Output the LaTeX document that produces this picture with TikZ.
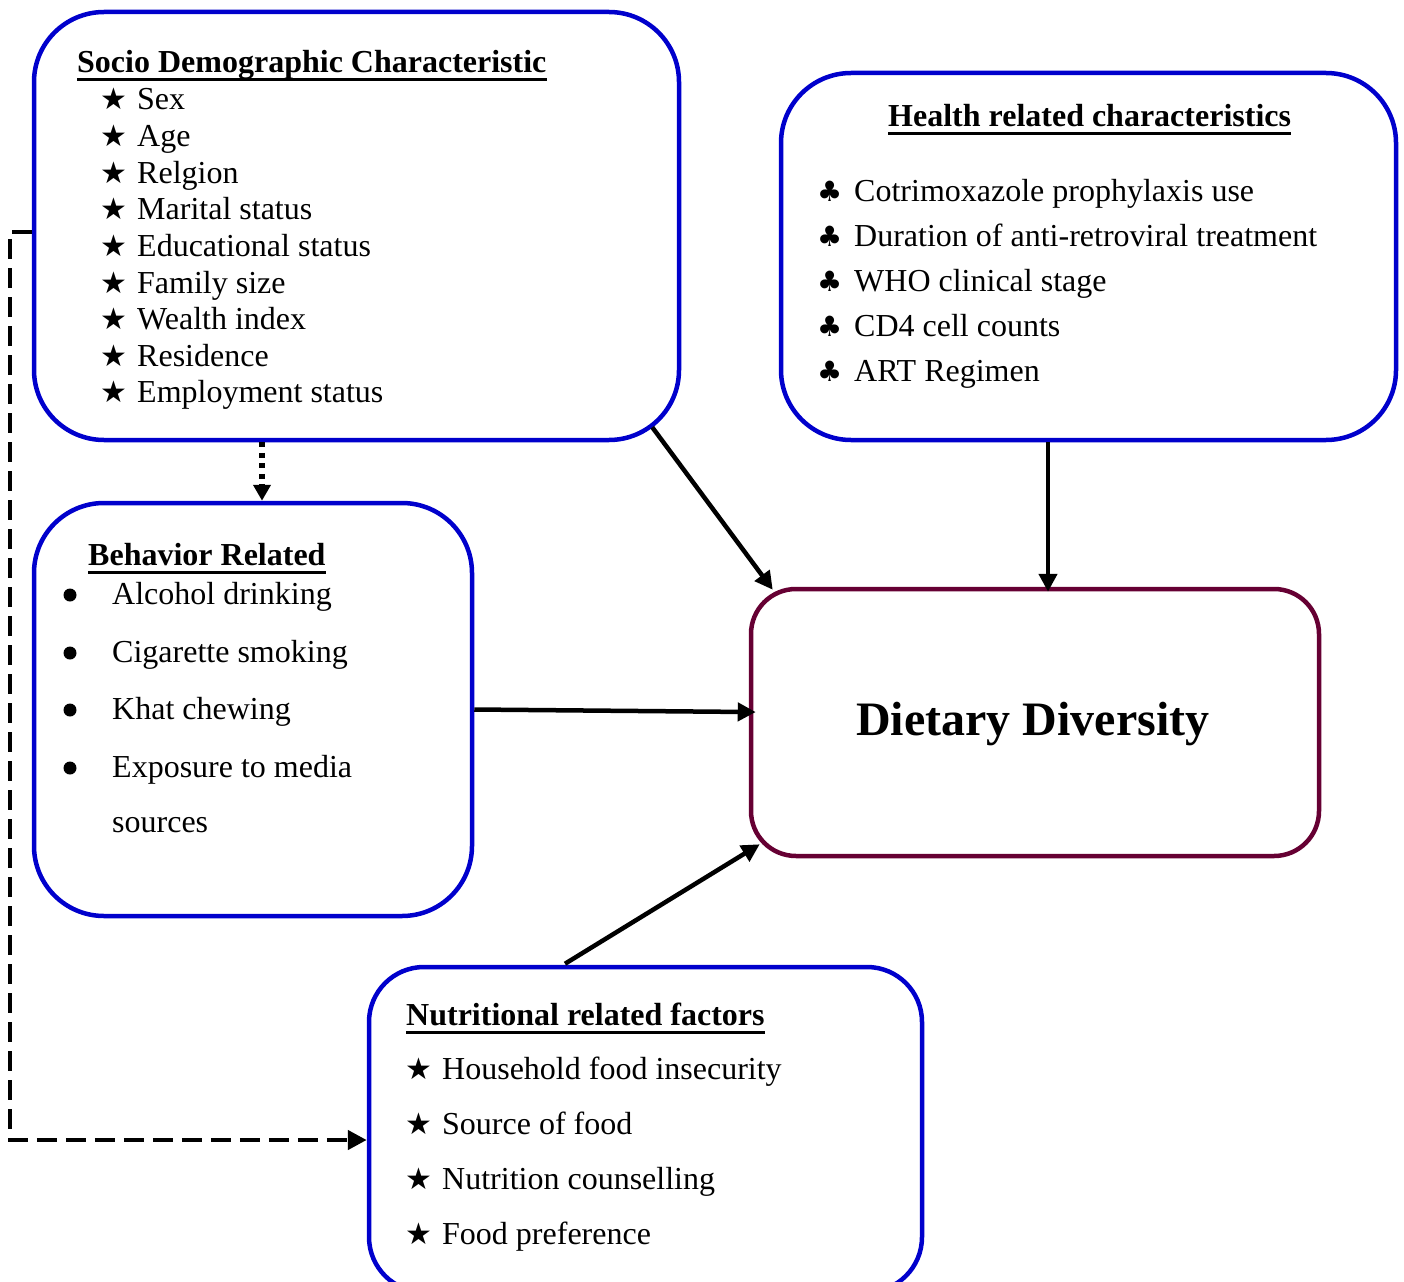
\documentclass[tikz,border=0pt]{standalone}
\usepackage{fontspec}
\setmainfont{Liberation Serif}
\newfontfamily\symf{DejaVu Sans}
\usetikzlibrary{arrows.meta}
\definecolor{boxblue}{RGB}{0,0,204}
\definecolor{boxmaroon}{RGB}{102,0,51}
\newcommand\stitem{\llap{{\symf\fontsize{30}{30}\selectfont ★}\hspace{10pt}}}
\newcommand\clitem{\llap{{\symf\fontsize{28}{28}\selectfont ♣}\hspace{12pt}}}
\begin{document}
\begin{tikzpicture}[x=1pt,y=-1pt,
  bluebox/.style={draw=boxblue, line width=4.5pt, rectangle, rounded corners=70pt, inner sep=0pt},
  item/.style={anchor=base west, inner sep=0pt, font=\fontsize{32}{38}\selectfont},
  ttl/.style={anchor=base west, inner sep=0pt, font=\fontsize{32}{38}\selectfont\bfseries},
  ul/.style={line width=3pt},
  arr/.style={line width=4.5pt, -{Triangle[length=18pt,width=18pt]}},
  dotarr/.style={line width=5.5pt, dash pattern=on 5pt off 5.5pt, -{Triangle[length=16pt,width=17pt]}},
  dasharr/.style={line width=4.5pt, dash pattern=on 20pt off 9pt, -{Triangle[length=19pt,width=19pt]}},
]
\useasboundingbox (0,0) rectangle (1404,1281);

% boxes
\node[bluebox, minimum width=645pt, minimum height=428pt] (socio) at (356.5,226) {};
\node[bluebox, minimum width=615pt, minimum height=367pt] (health) at (1088.5,256.5) {};
\node[bluebox, minimum width=438pt, minimum height=413pt] (behav) at (253,709.5) {};
\node[draw=boxmaroon, line width=4.5pt, rectangle, rounded corners=45pt, inner sep=0pt,
      minimum width=568pt, minimum height=267pt] (diet) at (1035,722.5) {};
\node[bluebox, rounded corners=55pt, minimum width=553pt, minimum height=325pt] (nutr) at (645.5,1129.5) {};

% socio text
\node[ttl] (sociot) at (77,73) {Socio Demographic Characteristic};
\draw[ul] ([yshift=-7pt]sociot.base west) -- ([yshift=-7pt]sociot.base east);
\foreach \t [count=\i] in {Sex, Age, Relgion, Marital status, Educational status, Family size, Wealth index, Residence, Employment status}
  \node[item] (s\i) at ({137},{110+36.6*(\i-1)}) {\stitem\t};

% health text
\node[ttl] (healtht) at (888,127) {Health related characteristics};
\draw[ul] ([yshift=-7pt]healtht.base west) -- ([yshift=-7pt]healtht.base east);
\foreach \t [count=\i] in {Cotrimoxazole prophylaxis use, Duration of anti-retroviral treatment, WHO clinical stage, CD4 cell counts, ART Regimen}
  \node[item] (h\i) at ({854},{202+44.8*(\i-1)}) {\clitem\t};

% behavior text
\node[ttl] (behavt) at (88,565) {Behavior Related};
\draw[ul] ([yshift=-7pt]behavt.base west) -- ([yshift=-7pt]behavt.base east);
\foreach \t/\y [count=\i] in {Alcohol drinking/604, Cigarette smoking/662, Khat chewing/719, Exposure to media/777}
  {\node[item] (b\i) at (112,\y) {\t};
   \fill ({70},{\y-9}) circle (6.5pt);}
\node[item] (b5) at (112,832) {sources};

% dietary
\node[anchor=base west, inner sep=0pt, font=\fontsize{48}{56}\selectfont\bfseries] (diett) at (856,735) {Dietary Diversity};

% nutritional text
\node[ttl] (nutrt) at (406,1025) {Nutritional related factors};
\draw[ul] ([yshift=-7pt]nutrt.base west) -- ([yshift=-7pt]nutrt.base east);
\foreach \t [count=\i] in {Household food insecurity, Source of food, Nutrition counselling, Food preference}
  \node[item] (n\i) at ({442},{1079+55.3*(\i-1)}) {\stitem\t};

% connectors
\coordinate (dx) at (262,0);
\coordinate (hx) at (1048,0);
\draw[dotarr] (socio.south -| dx) -- (behav.north -| dx);
\draw[arr] ([shift={(-29,-15)}]socio.south east) -- ([shift={(24,3)}]diet.north west);
\draw[arr, shorten >=-5pt] (health.south -| hx) -- (diet.north -| hx);
\draw[arr, shorten >=-7pt] (behav.east) -- ([yshift=10.5pt]diet.west);
\draw[arr] ([shift={(-80.5,-1)}]nutr.north) -- ([shift={(11,-14)}]diet.south west);
\draw[dasharr] ([yshift=-6pt]socio.west) -- ++(-22,0) |- ([yshift=-10.5pt]nutr.west);
\end{tikzpicture}
\end{document}
